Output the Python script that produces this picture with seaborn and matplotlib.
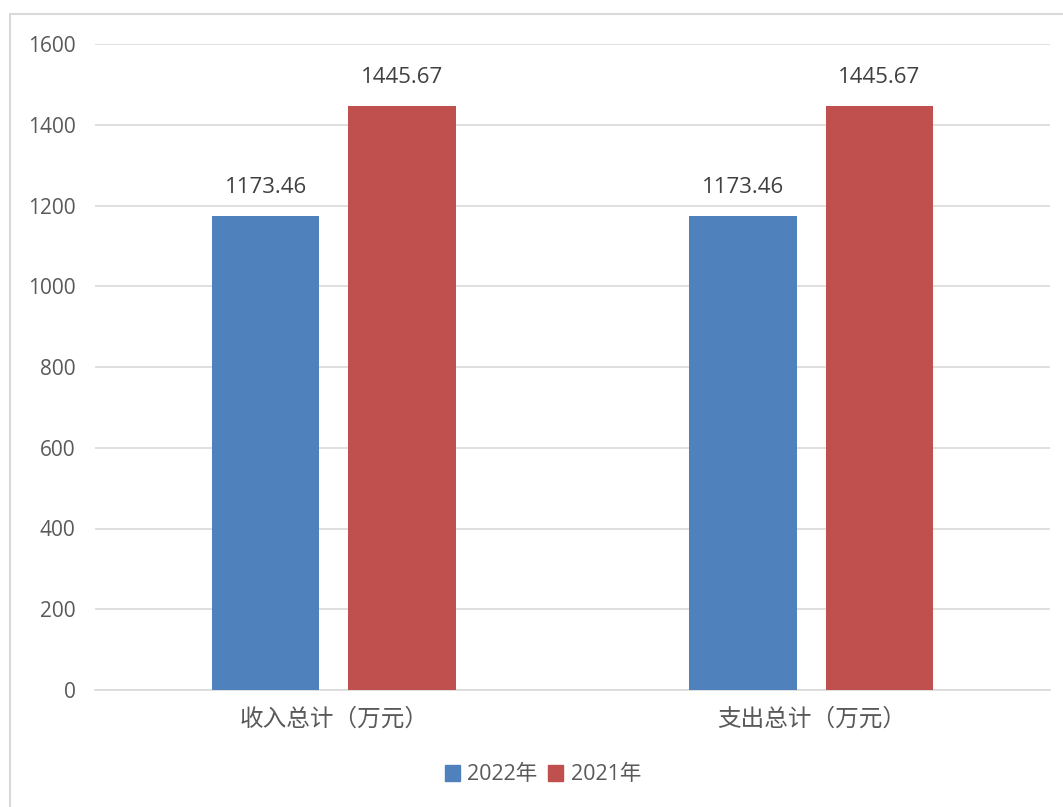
import matplotlib
matplotlib.use('Agg')
import matplotlib.pyplot as plt
import matplotlib.patches as mpatches
import pandas as pd
import seaborn as sns

categories = ['收入总计（万元）', '支出总计（万元）']
series = ['2022年', '2021年']
values_2022 = [1173.46, 1173.46]
values_2021 = [1445.67, 1445.67]
y_ticks = [0, 200, 400, 600, 800, 1000, 1200, 1400, 1600]

df = pd.DataFrame({
    'category': categories * 2,
    'year': [series[0]] * 2 + [series[1]] * 2,
    'value': values_2022 + values_2021,
})

sns.set_theme(style="white")
plt.rcParams['font.family'] = ['Open Sans', 'Noto Sans CJK SC', 'DejaVu Sans']

palette = {'2022年': '#4F81BD', '2021年': '#C0504D'}
text_color = '#595959'
grid_color = '#D9D9D9'

fig = plt.figure(figsize=(10.63, 8.07), dpi=100)
ax = fig.add_axes([95 / 1063, 1 - 690 / 807, (1050 - 95) / 1063, (690 - 44) / 807])

sns.barplot(data=df, x='category', y='value', hue='year', palette=palette,
            width=0.57, gap=0.21, saturation=1, linewidth=0, ax=ax, legend=False, zorder=3)

ax.set_ylim(0, 1600)
ax.set_xlim(-0.5, 1.5)
ax.set_yticks(y_ticks)
ax.yaxis.grid(True, color=grid_color, linewidth=1.2, zorder=0)
ax.set_axisbelow(True)
for side in ['left', 'right', 'top']:
    ax.spines[side].set_visible(False)
ax.spines['bottom'].set_color(grid_color)
ax.spines['bottom'].set_linewidth(1.2)
ax.tick_params(axis='y', length=0, pad=14, labelsize=15, labelcolor=text_color)
ax.tick_params(axis='x', length=0, pad=13, labelsize=17, labelcolor=text_color)
for lbl in ax.get_xticklabels():
    lbl.set_fontfamily(['Noto Sans CJK SC', 'DejaVu Sans'])
    lbl.set_fontweight('light')
ax.set_xlabel('')
ax.set_ylabel('')

for container in ax.containers:
    ax.bar_label(container, fmt='%.2f', padding=13, fontsize=16, color='#404040')

handles = [mpatches.Patch(color=palette[s], label=s) for s in series]
fig.legend(handles=handles, loc='center', bbox_to_anchor=(543 / 1063, 1 - 775 / 807),
           ncol=2, frameon=False, fontsize=15.5, handlelength=0.7, handleheight=0.7,
           handletextpad=0.35, columnspacing=0.5, labelcolor=text_color)

border = mpatches.Rectangle((10 / 1063, -0.1), 2, 1.1 - 14 / 807, transform=fig.transFigure,
                            fill=False, edgecolor=grid_color, linewidth=1.5)
fig.patches.append(border)

fig.savefig('out.png', dpi=100, facecolor='white')
